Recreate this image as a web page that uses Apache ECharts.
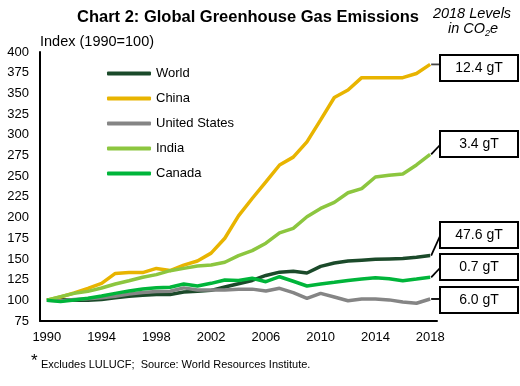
<!DOCTYPE html>
<html>
<head>
<meta charset="utf-8">
<script src="https://cdn.jsdelivr.net/npm/echarts@6/dist/echarts.min.js"></script>
<style>html,body{margin:0;padding:0;background:#fff;}#c{width:520px;height:386px;}</style>
</head>
<body>
<div id="c"></div>
<script>
var years = ['1990','1991','1992','1993','1994','1995','1996','1997','1998','1999','2000','2001','2002','2003','2004','2005','2006','2007','2008','2009','2010','2011','2012','2013','2014','2015','2016','2017','2018'];
var world  = [100,101,100,100,101,103,105,106,107,107,110,111,112,116,120,124,130,134,135,133,141,145,147.5,148.5,149.5,150,150.5,152,154];
var china  = [100,104,109,114.5,120.5,132.5,133.5,133.5,138.5,136,142.5,147.5,157,175,202,223,243,263.5,273,291.5,318,345,354,369,369,369,369,374,385];
var us     = [100,99.5,101,102,103,105,107.5,109.5,110.5,111,115,112.5,112.5,112.5,113.3,113.5,111.2,114.5,109.2,102.4,108.4,104,99.5,101.6,101.6,100.5,98,96.5,101.6];
var india  = [100,104.4,108.4,110.8,114.9,119.7,123.7,127.8,131,135.8,138.6,141.4,142.7,146,154,160,169,181.5,187,201,211,218.4,230,235,249,251,252.6,263.5,276.4];
var canada = [100,98.4,100.4,102.4,105.2,108.4,111.2,113.7,115.3,115.7,119.7,117.3,120.5,124.5,124,126.6,122.5,128.5,123,117.3,119.7,121.7,124,125.7,127.3,126,123.7,125.7,127.8];
var seriesNames = ['World','China','United States','India','Canada'];
var levels = ['47.6 gT','12.4 gT','6.0 gT','3.4 gT','0.7 gT'];

var FONT = 'Liberation Sans, Arial, sans-serif';
var colors = ['#1B4A2A','#E8B400','#858585','#8CC63F','#00B53A'];
var allData = [world, china, us, india, canada];
// box top positions (layout) in order World, China, US, India, Canada
var boxTops = [222, 55, 287, 131, 254];

var chart = echarts.init(document.getElementById('c'));
var series = seriesNames.map(function(n, i){
  return {
    name: n, type: 'line', data: allData[i], symbol: 'none',
    lineStyle: {width: 3.5, color: colors[i]},
    itemStyle: {color: colors[i]}, z: 2 + i
  };
});
chart.setOption({
  animation: false,
  textStyle: {fontFamily: FONT},
  title: {
    text: 'Chart 2: Global Greenhouse Gas Emissions',
    left: 72, top: 4,
    textStyle: {fontSize: 16.5, fontWeight: 'bold', color: '#000', fontFamily: FONT}
  },
  legend: {
    orient: 'vertical', left: 102, top: 62,
    icon: 'roundRect',
    itemWidth: 44, itemHeight: 4, itemGap: 12,
    textStyle: {fontSize: 13, color: '#000', fontFamily: FONT},
    data: seriesNames
  },
  grid: {left: 40, right: 83, top: 52, bottom: 65},
  xAxis: {
    type: 'category', data: years, boundaryGap: true,
    axisLine: {lineStyle: {color: '#000', width: 2}},
    axisTick: {show: false},
    axisLabel: {interval: 3, color: '#000', fontSize: 13, margin: 10, fontFamily: FONT}
  },
  yAxis: {
    type: 'value', min: 75, max: 400, interval: 25,
    name: 'Index (1990=100)', nameLocation: 'end', nameGap: 3,
    nameTextStyle: {align: 'left', verticalAlign: 'bottom', fontSize: 14.5, color: '#000', fontFamily: FONT},
    axisLine: {show: true, lineStyle: {color: '#000', width: 2}},
    axisTick: {show: false},
    splitLine: {show: false},
    axisLabel: {color: '#000', fontSize: 13, margin: 11, fontFamily: FONT}
  },
  series: series
});

function textW(t, font) {
  var cv = document.createElement('canvas').getContext('2d');
  cv.font = font;
  return cv.measureText(t).width;
}
var graphics = [];
graphics.push({
  type: 'text', x: 472, y: 14,
  style: {text: '2018 Levels', fontStyle: 'italic', fontSize: 14.5, fontFamily: FONT, fill: '#000', align: 'center', verticalAlign: 'middle'}
});
var w1 = textW('in CO', 'italic 14.5px Liberation Sans');
var w2 = textW('2', 'italic 9px Liberation Sans');
var w3 = textW('e', 'italic 14.5px Liberation Sans');
var sx = 473 - (w1 + w2 + w3) / 2;
graphics.push({
  type: 'text', x: sx, y: 29,
  style: {text: 'in CO', fontStyle: 'italic', fontSize: 14.5, fontFamily: FONT, fill: '#000', align: 'left', verticalAlign: 'middle'}
});
graphics.push({
  type: 'text', x: sx + w1, y: 33,
  style: {text: '2', fontStyle: 'italic', fontSize: 9, fontFamily: FONT, fill: '#000', align: 'left', verticalAlign: 'middle'}
});
graphics.push({
  type: 'text', x: sx + w1 + w2, y: 29,
  style: {text: 'e', fontStyle: 'italic', fontSize: 14.5, fontFamily: FONT, fill: '#000', align: 'left', verticalAlign: 'middle'}
});
var boxLeft = 440, boxW = 78, boxH = 26;
for (var i = 0; i < allData.length; i++) {
  var d = allData[i];
  var p = chart.convertToPixel({seriesIndex: i}, [d.length - 1, d[d.length - 1]]);
  var bTop = boxTops[i];
  var ay = Math.min(Math.max(p[1], bTop + 8), bTop + boxH - 12);
  graphics.push({
    type: 'line',
    shape: {x1: p[0] + 1, y1: p[1], x2: boxLeft, y2: ay},
    style: {stroke: i === 1 ? '#444' : '#000', lineWidth: 1.8}
  });
  graphics.push({
    type: 'rect',
    shape: {x: boxLeft, y: bTop, width: boxW, height: boxH},
    style: {fill: '#fff', stroke: '#000', lineWidth: 2}
  });
  graphics.push({
    type: 'text', x: boxLeft + boxW / 2, y: bTop + boxH / 2,
    style: {text: levels[i], fontSize: 14, fontFamily: FONT, fill: '#000', align: 'center', verticalAlign: 'middle'}
  });
}
graphics.push({
  type: 'text', x: 31, y: 353,
  style: {text: '*', fontSize: 17, fontFamily: FONT, fill: '#000'}
});
graphics.push({
  type: 'text', x: 41, y: 359,
  style: {text: 'Excludes LULUCF;  Source: World Resources Institute.', fontSize: 11, fontFamily: FONT, fill: '#000'}
});
chart.setOption({graphic: graphics});
</script>
</body>
</html>
